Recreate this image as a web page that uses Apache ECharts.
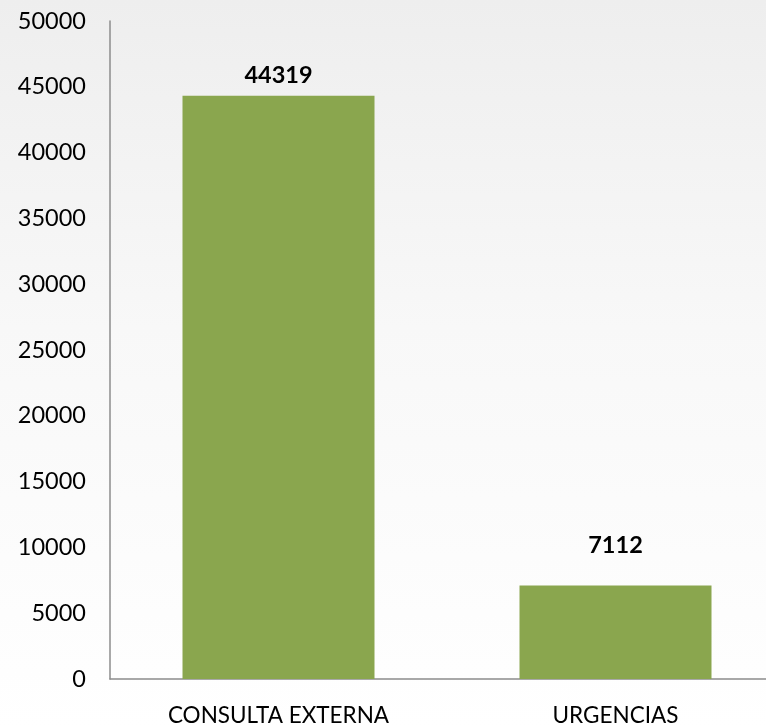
<!DOCTYPE html>
<html>
<head>
<meta charset="utf-8">
<script src="https://cdn.jsdelivr.net/npm/echarts@6/dist/echarts.min.js"></script>
<style>
  html, body { margin: 0; padding: 0; }
  #main { width: 766px; height: 728px; }
</style>
</head>
<body>
<div id="main"></div>
<script>
// categorias y valores
var categories = ['CONSULTA EXTERNA', 'URGENCIAS'];
var values = [44319, 7112];
var yTicks = [0, 5000, 10000, 15000, 20000, 25000, 30000, 35000, 40000, 45000, 50000];

// separacion de la etiqueta sobre cada barra (como en el original)
var labelGap = [8, 28];

var myChart = echarts.init(document.getElementById('main'));

var seriesData = values.map(function (v, i) {
  return { value: v, label: { distance: labelGap[i] } };
});

var option = {
  backgroundColor: {
    type: 'linear', x: 0, y: 0, x2: 0, y2: 1,
    colorStops: [
      { offset: 0, color: '#eeeeee' },
      { offset: 0.45, color: '#f8f8f8' },
      { offset: 1, color: '#ffffff' }
    ]
  },
  textStyle: { fontFamily: 'Lato' },
  grid: { left: 110, top: 21, width: 674, height: 658, outerBoundsMode: 'none', containLabel: false },
  xAxis: {
    type: 'category',
    data: categories,
    axisLine: { lineStyle: { color: '#8c8c8c', width: 1.5 } },
    axisTick: { show: false },
    axisLabel: { color: '#000', fontSize: 22.5, margin: 25 }
  },
  yAxis: {
    type: 'value',
    min: yTicks[0],
    max: yTicks[yTicks.length - 1],
    interval: yTicks[1] - yTicks[0],
    splitLine: { show: false },
    axisLine: { show: true, lineStyle: { color: '#8c8c8c', width: 1.5 } },
    axisTick: { show: false },
    axisLabel: {
      color: '#000', fontSize: 23.5, margin: 24,
      formatter: function (v) { return String(v); }
    }
  },
  series: [{
    type: 'bar',
    data: seriesData,
    barWidth: 192,
    itemStyle: { color: '#8aa64e' },
    label: {
      show: true,
      position: 'top',
      color: '#000',
      fontWeight: 'bold',
      fontSize: 23.5
    }
  }]
};

myChart.setOption(option);
</script>
</body>
</html>
